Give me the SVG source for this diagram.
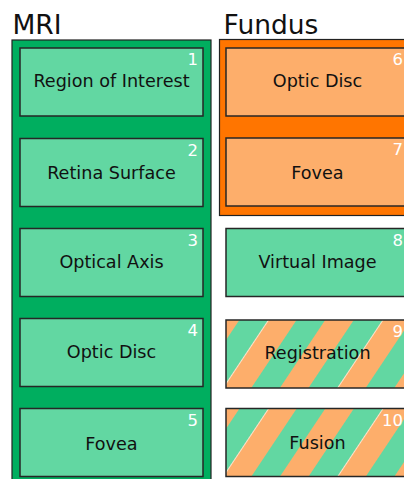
<svg xmlns="http://www.w3.org/2000/svg" width="404" height="479" viewBox="0 0 404 479">
<style>
.title{font-family:"DejaVu Sans",sans-serif;font-size:26.5px;fill:#111}
.lbl{font-family:"DejaVu Sans",sans-serif;font-size:17.6px;fill:#111;text-anchor:middle}
.num{font-family:"DejaVu Sans",sans-serif;font-size:16.5px;fill:#fff;text-anchor:end}
.box{stroke:#262626;stroke-width:1.5}
.g{fill:#62d7a2}
.o{fill:#fdae6b}
.cont{stroke:#222;stroke-width:1.2}
</style>
<defs>
<pattern id="st9" patternUnits="userSpaceOnUse" width="95.2" height="20" patternTransform="translate(267.3,321) rotate(33.7)">
<rect x="0" y="0" width="23.8" height="20" fill="#fdae6b"/>
<rect x="23.8" y="0" width="23.8" height="20" fill="#62d7a2"/>
<rect x="47.6" y="0" width="23.8" height="20" fill="#fdae6b"/>
<rect x="71.4" y="0" width="23.8" height="20" fill="#62d7a2"/>
<rect x="0" y="0" width="0.8" height="20" fill="#fff" opacity="0.8"/>
</pattern>
<pattern id="st10" patternUnits="userSpaceOnUse" width="95.2" height="20" patternTransform="translate(267.3,409.7) rotate(33.7)">
<rect x="0" y="0" width="23.8" height="20" fill="#fdae6b"/>
<rect x="23.8" y="0" width="23.8" height="20" fill="#62d7a2"/>
<rect x="47.6" y="0" width="23.8" height="20" fill="#fdae6b"/>
<rect x="71.4" y="0" width="23.8" height="20" fill="#62d7a2"/>
<rect x="0" y="0" width="0.8" height="20" fill="#fff" opacity="0.8"/>
</pattern>
</defs>
<rect width="404" height="479" fill="#fff"/>
<g id="mri">
<text class="title" x="12.5" y="33.5">MRI</text>
<rect class="cont" x="12" y="40" width="199" height="460" fill="#00ae5f"/>
</g>
<g id="fundus">
<text class="title" x="223.6" y="34">Fundus</text>
<rect class="cont" x="219.5" y="39.5" width="200" height="176" fill="#ff7500"/>
</g>
<g id="n1"><rect class="box g" x="20" y="48" width="183" height="68"/><text class="lbl" x="111.5" y="87.3">Region of Interest</text><text class="num" x="198" y="65">1</text></g>
<g id="n2"><rect class="box g" x="20" y="138.5" width="183" height="68"/><text class="lbl" x="111.5" y="179.3">Retina Surface</text><text class="num" x="198" y="155.5">2</text></g>
<g id="n3"><rect class="box g" x="20" y="228.5" width="183" height="68"/><text class="lbl" x="111.5" y="267.8">Optical Axis</text><text class="num" x="198" y="245.5">3</text></g>
<g id="n4"><rect class="box g" x="20" y="318.5" width="183" height="68"/><text class="lbl" x="111.5" y="358">Optic Disc</text><text class="num" x="198" y="335.5">4</text></g>
<g id="n5"><rect class="box g" x="20" y="408.5" width="183" height="68"/><text class="lbl" x="111.5" y="449.8">Fovea</text><text class="num" x="198" y="425.5">5</text></g>
<g id="n6"><rect class="box o" x="226" y="48" width="183" height="68"/><text class="lbl" x="317.5" y="87.3">Optic Disc</text><text class="num" x="403" y="65">6</text></g>
<g id="n7"><rect class="box o" x="226" y="138" width="183" height="68"/><text class="lbl" x="317.5" y="179">Fovea</text><text class="num" x="403" y="155">7</text></g>
<g id="n8"><rect class="box g" x="226" y="228.5" width="183" height="68"/><text class="lbl" x="317.5" y="268">Virtual Image</text><text class="num" x="403" y="245.5">8</text></g>
<g id="n9"><rect class="box" x="226" y="320" width="183" height="68" fill="url(#st9)"/><text class="lbl" x="317.5" y="358.7">Registration</text><text class="num" x="403" y="337">9</text></g>
<g id="n10"><rect class="box" x="226" y="408.5" width="183" height="68" fill="url(#st10)"/><text class="lbl" x="317.5" y="449">Fusion</text><text class="num" x="403" y="425.5">10</text></g>
<g id="connectors"/>
</svg>
